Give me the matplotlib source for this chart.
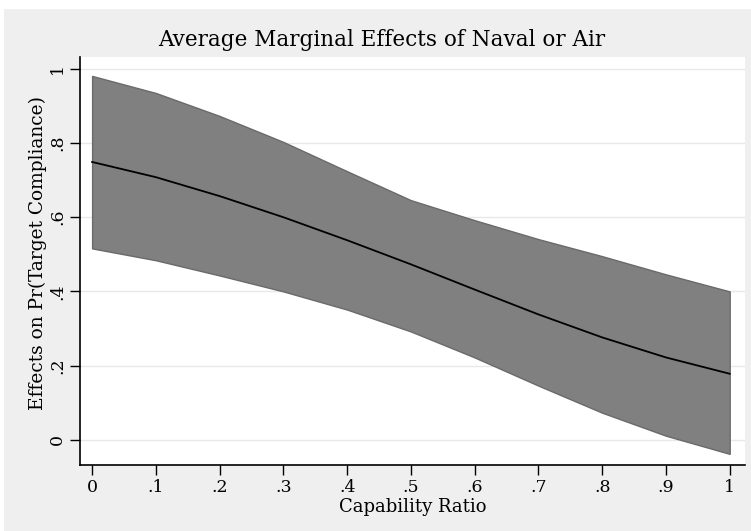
import numpy as np
import matplotlib
matplotlib.use('Agg')
import matplotlib.pyplot as plt
from matplotlib.patches import Rectangle

# Дані
cap_ratio = [0, .1, .2, .3, .4, .5, .6, .7, .8, .9, 1]
effect = [0.749, 0.708, 0.657, 0.600, 0.538, 0.473, 0.405, 0.338, 0.276, 0.222, 0.178]
upper = [0.981, 0.935, 0.873, 0.803, 0.724, 0.646, 0.592, 0.541, 0.495, 0.446, 0.400]
lower = [0.516, 0.484, 0.443, 0.400, 0.351, 0.292, 0.222, 0.146, 0.073, 0.011, -0.038]

x_ticks = [0, .1, .2, .3, .4, .5, .6, .7, .8, .9, 1]
x_labels = ['0', '.1', '.2', '.3', '.4', '.5', '.6', '.7', '.8', '.9', '1']
y_ticks = [0, .2, .4, .6, .8, 1]
y_labels = ['0', '.2', '.4', '.6', '.8', '1']

plt.rcParams['font.family'] = ['DejaVu Serif']

fig = plt.figure(figsize=(7.51, 5.31), dpi=100)
fig.patches.append(Rectangle((4 / 751, 0), 1, 1 - 9 / 531, transform=fig.transFigure,
                             facecolor='#efefef', edgecolor='none', zorder=-10))
ax = fig.add_axes([80 / 751, 1 - 465 / 531, 665 / 751, 408 / 531])
ax.set_zorder(1)
ax.set_facecolor('white')

ax.fill_between(cap_ratio, lower, upper, facecolor='#808080', edgecolor='#6a6a6a', linewidth=1)
ax.plot(cap_ratio, effect, color='black', linewidth=1.3)

ax.set_xlim(-0.019, 1.024)
ax.set_ylim(-0.068, 1.032)
ax.set_xticks(x_ticks)
ax.set_xticklabels(x_labels)
ax.set_yticks(y_ticks)
ax.set_yticklabels(y_labels, rotation=90, va='center')
ax.tick_params(direction='out', length=7, width=1, labelsize=12.5, pad=3)
ax.grid(axis='y', color='#e8e8e8', linewidth=1)
ax.set_axisbelow(True)
for s in ['top', 'right']:
    ax.spines[s].set_visible(False)
ax.spines['left'].set_linewidth(1.2)
ax.spines['bottom'].set_linewidth(1.2)

fig.text(382 / 751, 1 - 40 / 531, 'Average Marginal Effects of Naval or Air',
         fontsize=15.5, ha='center', va='center')
ax.set_xlabel('Capability Ratio', fontsize=13, va='center')
ax.xaxis.set_label_coords(0.5, -42 / 408)
ax.set_ylabel('Effects on Pr(Target Compliance)', fontsize=13.4, va='center')
ax.yaxis.set_label_coords(-42 / 665, 0.52)

fig.savefig('out.png', dpi=100)
